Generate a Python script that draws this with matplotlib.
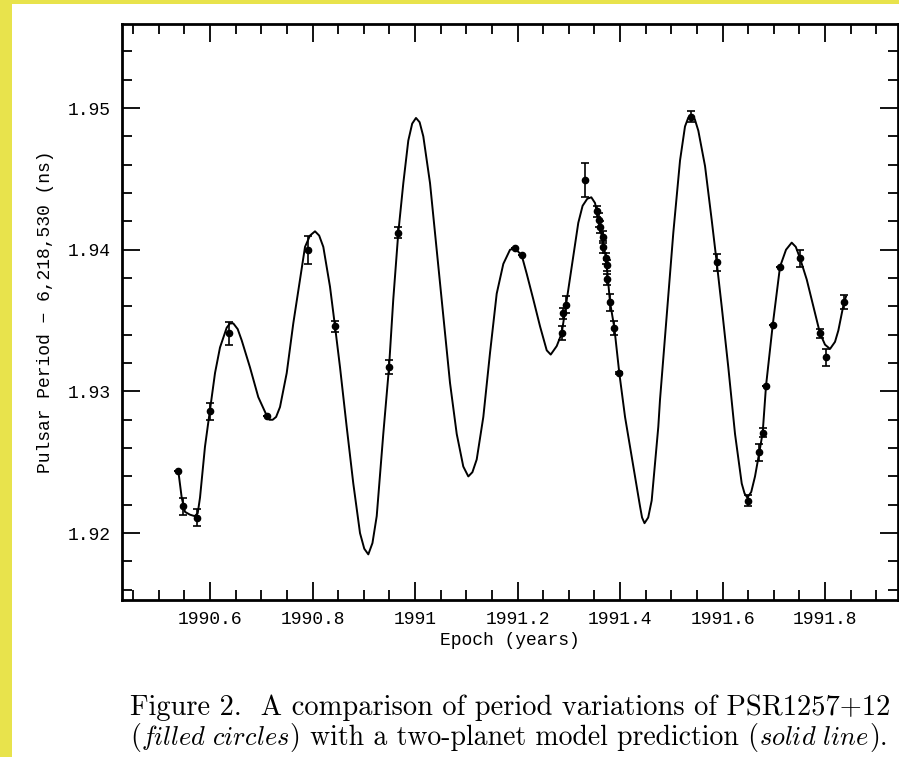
import matplotlib
matplotlib.use("Agg")
import matplotlib.pyplot as plt
from matplotlib.patches import Rectangle
from matplotlib.ticker import MultipleLocator, FuncFormatter

# two-planet model curve
curve_year = [1990.5381, 1990.5448, 1990.5512, 1990.5610, 1990.5700, 1990.5760, 1990.5805,
              1990.5902, 1990.6000, 1990.6098, 1990.6195, 1990.6326, 1990.6390, 1990.6455,
              1990.6540, 1990.6619, 1990.6780, 1990.6942, 1990.7106, 1990.7160, 1990.7223,
              1990.7290, 1990.7366, 1990.7497, 1990.7625, 1990.7756, 1990.7854, 1990.7951,
              1990.8049, 1990.8130, 1990.8211, 1990.8341, 1990.8439, 1990.8537, 1990.8667,
              1990.8796, 1990.8927, 1990.9010, 1990.9089, 1990.9170, 1990.9253, 1990.9381,
              1990.9493, 1990.9576, 1990.9674, 1990.9772, 1990.9869, 1990.9945, 1991.0019,
              1991.0090, 1991.0162, 1991.0293, 1991.0423, 1991.0552, 1991.0683, 1991.0814,
              1991.0942, 1991.1040, 1991.1120, 1991.1204, 1991.1333, 1991.1463, 1991.1594,
              1991.1723, 1991.1854, 1991.1951, 1991.2082, 1991.2180, 1991.2308, 1991.2439,
              1991.2570, 1991.2648, 1991.2765, 1991.2862, 1991.2946, 1991.3057, 1991.3186,
              1991.3270, 1991.3362, 1991.3440, 1991.3512, 1991.3610, 1991.3727, 1991.3805,
              1991.3889, 1991.3986, 1991.4098, 1991.4260, 1991.4390, 1991.4430, 1991.4478,
              1991.4550, 1991.4618, 1991.4747, 1991.4780, 1991.4911, 1991.5040, 1991.5171,
              1991.5268, 1991.5330, 1991.5399, 1991.5460, 1991.5528, 1991.5659, 1991.5789,
              1991.5887, 1991.5984, 1991.6113, 1991.6244, 1991.6375, 1991.6430, 1991.6484,
              1991.6560, 1991.6634, 1991.6718, 1991.6784, 1991.6849, 1991.6980, 1991.7122,
              1991.7239, 1991.7350, 1991.7430, 1991.7512, 1991.7643, 1991.7766, 1991.7902,
              1991.8000, 1991.8098, 1991.8195, 1991.8260, 1991.8371, 1991.8410]
curve_period = [1.9244, 1.9225, 1.9215, 1.9213, 1.9212, 1.9214, 1.9225,
                1.9261, 1.9287, 1.9313, 1.9331, 1.9345, 1.9348, 1.9348,
                1.9344, 1.9336, 1.9317, 1.9296, 1.9283, 1.9280, 1.9280,
                1.9282, 1.9289, 1.9313, 1.9348, 1.9379, 1.9402, 1.9410,
                1.9413, 1.9410, 1.9402, 1.9374, 1.9346, 1.9317, 1.9275,
                1.9235, 1.9200, 1.9189, 1.9185, 1.9193, 1.9212, 1.9270,
                1.9317, 1.9365, 1.9412, 1.9447, 1.9477, 1.9489, 1.9493,
                1.9490, 1.9480, 1.9447, 1.9400, 1.9353, 1.9306, 1.9270,
                1.9247, 1.9240, 1.9243, 1.9252, 1.9282, 1.9327, 1.9369,
                1.9390, 1.9400, 1.9401, 1.9396, 1.9383, 1.9365, 1.9346,
                1.9329, 1.9326, 1.9332, 1.9341, 1.9361, 1.9388, 1.9419,
                1.9431, 1.9436, 1.9437, 1.9433, 1.9416, 1.9394, 1.9363,
                1.9345, 1.9313, 1.9282, 1.9247, 1.9219, 1.9211, 1.9207,
                1.9211, 1.9223, 1.9275, 1.9294, 1.9353, 1.9412, 1.9463,
                1.9487, 1.9493, 1.9495, 1.9492, 1.9484, 1.9459, 1.9421,
                1.9391, 1.9360, 1.9317, 1.9270, 1.9235, 1.9228, 1.9225,
                1.9229, 1.9240, 1.9257, 1.9271, 1.9304, 1.9347, 1.9388,
                1.9400, 1.9405, 1.9402, 1.9394, 1.9379, 1.9361, 1.9341,
                1.9333, 1.9330, 1.9335, 1.9343, 1.9363, 1.9367]

# timing measurements (filled circles) with errors
obs_year = [1990.5381, 1990.5479, 1990.5752, 1990.6000, 1990.6371, 1990.7106, 1990.7906,
            1990.8439, 1990.9493, 1990.9674, 1991.1951, 1991.2082, 1991.2862, 1991.2893,
            1991.2946, 1991.3317, 1991.3545, 1991.3590, 1991.3610, 1991.3674, 1991.3662,
            1991.3727, 1991.3741, 1991.3752, 1991.3805, 1991.3889, 1991.3986, 1991.5385,
            1991.5887, 1991.6504, 1991.6718, 1991.6784, 1991.6849, 1991.6980, 1991.7122,
            1991.7512, 1991.7902, 1991.8020, 1991.8371]
obs_period = [1.9244, 1.9219, 1.9211, 1.9286, 1.9341, 1.9283, 1.9400,
              1.9346, 1.9317, 1.9412, 1.9401, 1.9396, 1.9341, 1.9355,
              1.9361, 1.9449, 1.9427, 1.9421, 1.9416, 1.9409, 1.9402,
              1.9394, 1.9389, 1.9379, 1.9363, 1.9345, 1.9313, 1.9494,
              1.9391, 1.9223, 1.9257, 1.9271, 1.9304, 1.9347, 1.9388,
              1.9394, 1.9341, 1.9324, 1.9363]
obs_err = [0.0, 0.0006, 0.0006, 0.0006, 0.0008, 0.0, 0.0010,
           0.0004, 0.0005, 0.0004, 0.0, 0.0, 0.0005, 0.0004,
           0.0006, 0.0012, 0.0004, 0.0005, 0.0004, 0.0004, 0.0004,
           0.0004, 0.0004, 0.0004, 0.0006, 0.0005, 0.0001, 0.0004,
           0.0006, 0.0004, 0.0006, 0.0003, 0.0, 0.0, 0.0,
           0.0006, 0.0003, 0.0006, 0.0005]

caption1 = 'Figure 2.  A comparison of period variations of PSR1257+12'
# (text, italic?) pieces of the second caption line
caption2 = [('(', False), ('filled circles', True),
            (') with a two-planet model prediction (', False),
            ('solid line', True), (').', False)]

mono = 'Liberation Mono'

fig = plt.figure(figsize=(8.99, 7.57), dpi=100)
fig.patch.set_facecolor('white')
fig.patches.append(Rectangle((0, 0), 12 / 899, 1, transform=fig.transFigure,
                             facecolor='#e8e34c', edgecolor='none', zorder=0))
fig.patches.append(Rectangle((0, 1 - 4 / 757), 1, 4 / 757, transform=fig.transFigure,
                             facecolor='#e8e34c', edgecolor='none', zorder=0))

ax = fig.add_axes([122 / 899, 1 - 600 / 757, 776 / 899, 576 / 757])
ax.plot(curve_year, curve_period, color='black', lw=1.4, solid_joinstyle='round')
ax.errorbar(obs_year, obs_period, yerr=obs_err, fmt='o', color='black', ms=4.5,
            elinewidth=1.2, capsize=3, capthick=1.2)

ax.set_xlim(1990.4283, 1991.9424)
ax.set_ylim(1.91528, 1.95593)
ax.xaxis.set_major_locator(MultipleLocator(0.2))
ax.xaxis.set_minor_locator(MultipleLocator(0.05))
ax.yaxis.set_major_locator(MultipleLocator(0.01))
ax.yaxis.set_minor_locator(MultipleLocator(0.002))
ax.xaxis.set_major_formatter(FuncFormatter(lambda v, p: f'{v:g}'))
ax.yaxis.set_major_formatter(FuncFormatter(lambda v, p: f'{v:.2f}'))

ax.tick_params(which='both', direction='in', top=True, right=True, width=1.3)
ax.tick_params(which='major', length=13, pad=8)
ax.tick_params(which='minor', length=7)
for sp in ax.spines.values():
    sp.set_linewidth(2)
for lab in ax.get_xticklabels() + ax.get_yticklabels():
    lab.set_fontfamily(mono)
    lab.set_fontsize(13)

ax.set_xlabel('Epoch (years)', fontfamily=mono, fontsize=13, labelpad=3)
ax.set_ylabel('Pulsar Period \u2212 6,218,530 (ns)', fontfamily=mono, fontsize=13, labelpad=10)

# caption below the plot
fig.text(130 / 899, 1 - 708 / 757, caption1, fontfamily='cmr10', fontsize=20.5, va='center')

renderer = fig.canvas.get_renderer()
x = 130 / 899
for piece, italic in caption2:
    if italic:
        t = fig.text(x, 1 - 738 / 757, r'$\mathit{' + piece.replace(' ', r'\ ') + '}$',
                     math_fontfamily='cm', fontsize=19, va='center')
    else:
        t = fig.text(x, 1 - 737 / 757, piece, fontfamily='cmr10', fontsize=20, va='center')
    bb = t.get_window_extent(renderer)
    x += bb.width / fig.bbox.width + (1 / 899 if italic else 0)

fig.savefig('out.png', dpi=100)
